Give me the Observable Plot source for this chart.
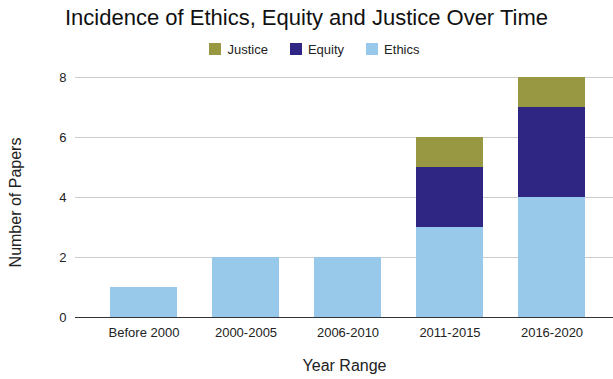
<!DOCTYPE html>
<html>
<head>
<meta charset="utf-8">
<script src="https://cdn.jsdelivr.net/npm/d3@7"></script>
<script src="https://cdn.jsdelivr.net/npm/@observablehq/plot@0.6"></script>
<style>
  body { margin: 0; background: #fff; font-family: "Liberation Sans", Arial, Helvetica, sans-serif; }
  #wrap { width: 613px; height: 379px; overflow: hidden; }
  #title { height: 36px; line-height: 36px; text-align: center; font-size: 22px; color: #111; }
  #legend { height: 26px; display: flex; justify-content: center; align-items: center; gap: 22px; font-size: 13px; color: #222; padding-left: 16px; }
  .item { display: flex; align-items: center; gap: 6px; }
  .sw { width: 12px; height: 12px; display: inline-block; }
</style>
</head>
<body>
<div id="wrap">
  <div id="title">Incidence of Ethics, Equity and Justice Over Time</div>
  <div id="legend"></div>
  <div id="chart"></div>
</div>
<script>
const categories = ["Before 2000", "2000-2005", "2006-2010", "2011-2015", "2016-2020"];
const ethics  = [1, 2, 2, 3, 4];
const equity  = [0, 0, 0, 2, 3];
const justice = [0, 0, 0, 1, 1];
const seriesNames = ["Justice", "Equity", "Ethics"];
const seriesColors = ["#989842", "#2f2582", "#99c9ea"];
const yTicks = [0, 2, 4, 6, 8];

const rows = [];
categories.forEach((c, i) => {
  rows.push({cat: c, series: "Ethics", value: ethics[i]});
  rows.push({cat: c, series: "Equity", value: equity[i]});
  rows.push({cat: c, series: "Justice", value: justice[i]});
});

const legend = document.getElementById("legend");
seriesNames.forEach((s, i) => {
  const item = document.createElement("span");
  item.className = "item";
  const sw = document.createElement("span");
  sw.className = "sw";
  sw.style.background = seriesColors[i];
  const t = document.createElement("span");
  t.textContent = s;
  item.appendChild(sw); item.appendChild(t);
  legend.appendChild(item);
});

const chart = Plot.plot({
  width: 613,
  height: 317,
  marginTop: 15,
  marginBottom: 62,
  marginLeft: 75,
  marginRight: 0,
  style: {fontFamily: "'Liberation Sans', Arial, sans-serif", fontSize: "13px", color: "#222", background: "#fff"},
  x: {domain: categories, range: [75, 620], padding: 0.34},
  y: {domain: [0, 8]},
  color: {domain: seriesNames, range: seriesColors},
  marks: [
    Plot.gridY(yTicks, {stroke: "#cccccc", strokeOpacity: 1}),
    Plot.barY(rows, Plot.stackY({
      x: "cat", y: "value", fill: "series",
      order: ["Ethics", "Equity", "Justice"]
    })),
    Plot.ruleY([0], {stroke: "#333", strokeWidth: 1}),
    Plot.axisY(yTicks, {tickSize: 0, tickPadding: 9, label: null, fontSize: 13}),
    Plot.axisX({tickSize: 0, tickPadding: 10, label: null, fontSize: 13}),
    Plot.text(["Year Range"], {frameAnchor: "bottom", dy: 53, fontSize: 16, fill: "#222"}),
    Plot.text(["Number of Papers"], {frameAnchor: "left", textAnchor: "middle", dx: -60, dy: 5, rotate: -90, fontSize: 16, fill: "#222"})
  ]
});
document.getElementById("chart").appendChild(chart);
</script>
</body>
</html>
